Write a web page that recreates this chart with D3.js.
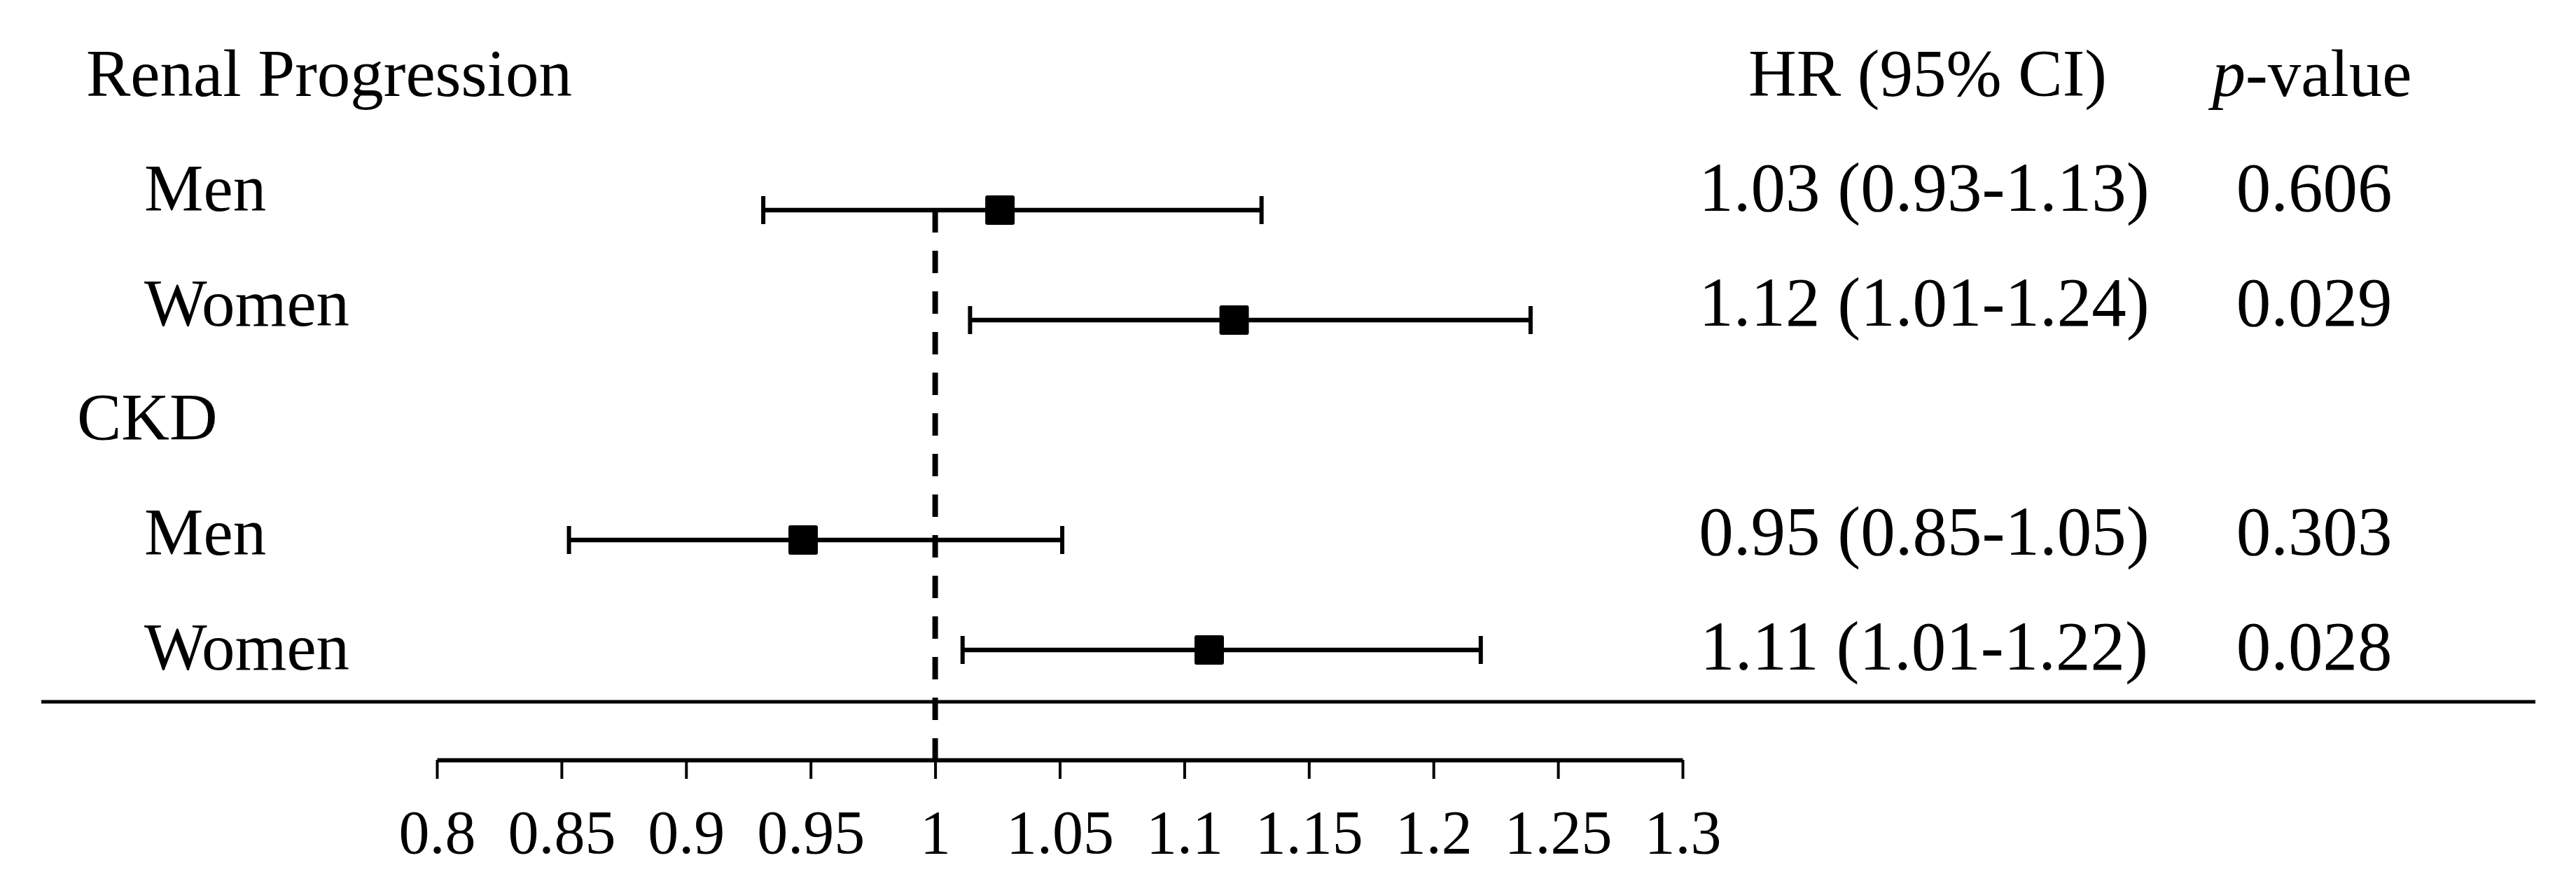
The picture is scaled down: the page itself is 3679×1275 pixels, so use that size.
<!DOCTYPE html>
<html>
<head>
<meta charset="utf-8">
<title>Forest plot</title>
<script src="https://d3js.org/d3.v7.min.js"></script>
<style>
  body { margin: 0; background: #fff; }
  svg { display: block; }
  text { font-family: "Liberation Serif", "Times New Roman", serif; fill: #000; }
</style>
</head>
<body>
<script>
// data
var outcomes = ["Renal Progression", "CKD"];
var outcomeRows = [0, 3];
var groups = ["Men", "Women", "Men", "Women"];
var groupRows = [1, 2, 4, 5];
var hr = [1.026, 1.12, 0.947, 1.11];
var lower = [0.931, 1.014, 0.853, 1.011];
var upper = [1.131, 1.239, 1.051, 1.219];
var hrLabels = ["1.03 (0.93-1.13)", "1.12 (1.01-1.24)", "0.95 (0.85-1.05)", "1.11 (1.01-1.22)"];
var pValues = ["0.606", "0.029", "0.303", "0.028"];
var tickValues = [0.8, 0.85, 0.9, 0.95, 1, 1.05, 1.1, 1.15, 1.2, 1.25, 1.3];

var W = 3679, H = 1275;
var fs = 95;      // labels and headers
var fsData = 99;  // HR and p columns

var svg = d3.select("body").append("svg")
    .attr("width", W)
    .attr("height", H);

svg.append("rect").attr("width", W).attr("height", H).attr("fill", "#fff");

var x = d3.scaleLinear().domain([0.8, 1.3]).range([624, 2403]);
// row centre of the marks, and text baselines
var rowY = d3.scaleLinear().domain([0, 5]).range([143, 928]);
var textY = d3.scaleLinear().domain([0, 5]).range([137, 956]);
var axisY = 1085;

var rows = groups.map(function(g, i) {
  return {label: g, row: groupRows[i], hr: hr[i], lo: lower[i], hi: upper[i], txt: hrLabels[i], p: pValues[i]};
});

// header row
var headerX = [123, 110];
svg.selectAll(".outcome")
  .data(outcomes)
  .enter().append("text")
    .attr("class", "outcome")
    .attr("x", function(d, i) { return headerX[i]; })
    .attr("y", function(d, i) { return textY(outcomeRows[i]); })
    .style("font-size", fs + "px")
    .text(function(d) { return d; });

svg.append("text")
    .attr("x", 2753).attr("y", textY(0))
    .attr("text-anchor", "middle")
    .style("font-size", fs + "px")
    .text("HR (95% CI)");

var ph = svg.append("text")
    .attr("x", 3302).attr("y", textY(0))
    .attr("text-anchor", "middle")
    .style("font-size", fs + "px");
ph.append("tspan").style("font-style", "italic").text("p");
ph.append("tspan").text("-value");

// group labels and table columns
var g = svg.selectAll(".row")
  .data(rows)
  .enter().append("g")
    .attr("class", "row");

g.append("text")
    .attr("x", 206)
    .attr("y", function(d) { return textY(d.row); })
    .style("font-size", fs + "px")
    .text(function(d) { return d.label; });

g.append("text")
    .attr("x", 2748)
    .attr("y", function(d) { return textY(d.row); })
    .attr("text-anchor", "middle")
    .style("font-size", fsData + "px")
    .text(function(d) { return d.txt; });

g.append("text")
    .attr("x", 3305)
    .attr("y", function(d) { return textY(d.row); })
    .attr("text-anchor", "middle")
    .style("font-size", fsData + "px")
    .text(function(d) { return d.p; });

// reference line at 1
svg.append("line")
    .attr("x1", x(1)).attr("x2", x(1))
    .attr("y1", rowY(1)).attr("y2", axisY)
    .attr("stroke", "#000")
    .attr("stroke-width", 8)
    .attr("stroke-dasharray", "32,26");

// confidence intervals
g.append("line")
    .attr("x1", function(d) { return x(d.lo); })
    .attr("x2", function(d) { return x(d.hi); })
    .attr("y1", function(d) { return rowY(d.row); })
    .attr("y2", function(d) { return rowY(d.row); })
    .attr("stroke", "#000").attr("stroke-width", 6.5);

["lo", "hi"].forEach(function(k) {
  g.append("line")
      .attr("x1", function(d) { return x(d[k]); })
      .attr("x2", function(d) { return x(d[k]); })
      .attr("y1", function(d) { return rowY(d.row) - 20; })
      .attr("y2", function(d) { return rowY(d.row) + 20; })
      .attr("stroke", "#000").attr("stroke-width", 6);
});

var sq = 42;
g.append("rect")
    .attr("x", function(d) { return x(d.hr) - sq / 2; })
    .attr("y", function(d) { return rowY(d.row) - sq / 2; })
    .attr("width", sq).attr("height", sq)
    .attr("rx", 3)
    .attr("fill", "#000");

// separator under the table
svg.append("line")
    .attr("x1", 59).attr("x2", 3621)
    .attr("y1", 1002).attr("y2", 1002)
    .attr("stroke", "#000").attr("stroke-width", 5);

// x axis
var axis = d3.axisBottom(x)
    .tickValues(tickValues)
    .tickSize(27)
    .tickSizeOuter(0)
    .tickFormat(function(d) { return String(+d.toFixed(2)); });

var ax = svg.append("g")
    .attr("transform", "translate(0," + axisY + ")")
    .call(axis);

ax.select(".domain").attr("stroke", "#000").attr("stroke-width", 6);
ax.selectAll(".tick line").attr("stroke", "#000").attr("stroke-width", 4);
ax.selectAll(".tick text")
    .attr("y", 133)
    .attr("dy", 0)
    .style("font-family", "'Liberation Serif', 'Times New Roman', serif")
    .style("font-size", "88px")
    .attr("fill", "#000");
</script>
</body>
</html>
